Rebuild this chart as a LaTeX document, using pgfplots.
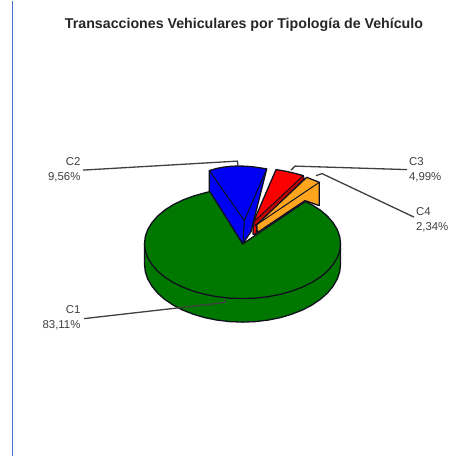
\documentclass[border=0pt]{standalone}
\usepackage{pgfplots}
\pgfplotsset{compat=1.18}
\usepackage{fontspec}
\setmainfont{Liberation Sans}
\definecolor{cgreen}{HTML}{007800}
\definecolor{cblue}{HTML}{0000F5}
\definecolor{cred}{HTML}{FA0000}
\definecolor{cdred}{HTML}{C00000}
\definecolor{corange}{HTML}{FFA51E}
\definecolor{cframe}{HTML}{4472C4}
\definecolor{cedge}{HTML}{10101E}
\definecolor{clead}{HTML}{404040}
\begin{document}
\begin{tikzpicture}
\begin{axis}[
  scale only axis, width=470pt, height=455pt,
  xmin=0, xmax=470, ymin=0, ymax=455, y dir=reverse,
  hide axis, clip=false,
  every axis plot/.append style={line join=round},
]
% canvas
\addplot[draw=none, fill=white] coordinates {(0,0) (470,0) (470,455) (0,455)} -- cycle;
\addplot[draw=cframe, line width=1.2pt] coordinates {(12.5,0) (12.5,455)};
% side of C1
\addplot[draw=cedge, line width=1.3pt, fill=cgreen] coordinates {
(144.5,243) (144.5,263.5) (145.3,271.1) (147.8,278.5) (152,285.7) (157.6,292.5) (164.7,298.8) (173.2,304.5) (182.8,309.5) (193.5,313.7) (205,317.1) (217.1,319.5) (229.7,321) (242.5,321.5) (255.3,321) (267.9,319.5) (280,317.1) (291.5,313.7) (302.2,309.5) (311.8,304.5) (320.3,298.8) (327.4,292.5) (333,285.7) (337.2,278.5) (339.7,271.1) (340.5,263.5) (340.5,243)} -- cycle;
% top of C1
\addplot[draw=cedge, line width=1.3pt, fill=cgreen] coordinates {
(242.7,243.3) (210.5,190.8) (205,192.2) (193.5,195.4) (182.8,199.4) (173.2,204.1) (164.7,209.5) (157.6,215.5) (152,222) (147.8,228.8) (145.3,235.8) (144.5,243) (145.3,250.2) (147.8,257.2) (152,264) (157.6,270.5) (164.7,276.5) (173.2,281.9) (182.8,286.6) (193.5,290.6) (205,293.8) (217.1,296.1) (229.7,297.5) (242.5,298) (255.3,297.5) (267.9,296.1) (280,293.8) (291.5,290.6) (302.2,286.6) (311.8,281.9) (320.3,276.5) (327.4,270.5) (333,264) (337.2,257.2) (339.7,250.2) (340.5,243) (339.7,235.8) (337.2,228.8) (333,222) (327.4,215.5) (320.3,209.5) (311.8,204.1) (305.5,200.9)} -- cycle;
% C3 red
\addplot[draw=cedge, line width=1.3pt, fill=cred] coordinates {
(253.3,221.7) (276,169) (285,170.5) (294,172.5) (303.3,175) (304,178.5) (257,226) (256,233.5) (253,233.5)} -- cycle;
\addplot[draw=cedge, line width=0.9pt, fill=cdred] coordinates {
(253.3,221.7) (303.3,175) (304,178.5) (256,226)} -- cycle;
% C4 orange
\addplot[draw=cedge, line width=1.3pt, fill=corange] coordinates {
(256.7,224) (306.7,176.7) (319.3,181.7) (319.3,205) (305,200) (257.3,232)} -- cycle;
\addplot[draw=cedge, line width=1pt] coordinates {(256.7,224) (319.3,181.7)};
% C2 blue
\addplot[draw=cedge, line width=1.3pt, fill=cblue] coordinates {
(209.3,170) (216,168) (223,166.6) (231,165.7) (238,165.4) (246,165.6) (253,166.2) (260,167.2) (266.7,168.3) (251,231) (242.7,243.3) (209.3,190)} -- cycle;
\addplot[draw=cedge, line width=1pt] coordinates {(209.3,170) (244.3,220) (266.7,168.3)};
\addplot[draw=cedge, line width=1pt] coordinates {(244.3,220) (243,243)};
% leaders
\addplot[draw=clead, line width=1.3pt] coordinates {(83,169.5) (237.5,160.5) (238,165.5)};
\addplot[draw=clead, line width=1.3pt] coordinates {(291,169.5) (295,165.5) (407,169)};
\addplot[draw=clead, line width=1.3pt] coordinates {(316,175) (322,173) (414,216.5)};
\addplot[draw=clead, line width=1.3pt] coordinates {(84,318) (224.5,302) (225,298)};
% text
\node[anchor=base, font=\bfseries\fontsize{14.2}{16}\selectfont, text=black!85] at (axis cs:244,28) {Transacciones Vehiculares por Tipología de Vehículo};
\node[anchor=east, font=\fontsize{11.4}{15}\selectfont, align=right, text=black!75] at (axis cs:84,169) {C2\\9,56\%};
\node[anchor=west, font=\fontsize{11.4}{15}\selectfont, align=left, text=black!75] at (axis cs:405.5,169.5) {C3\\4,99\%};
\node[anchor=west, font=\fontsize{11.4}{15}\selectfont, align=left, text=black!75] at (axis cs:412.5,219.5) {C4\\2,34\%};
\node[anchor=east, font=\fontsize{11.4}{15}\selectfont, align=right, text=black!75] at (axis cs:84,317) {C1\\83,11\%};
\end{axis}
\end{tikzpicture}
\end{document}
